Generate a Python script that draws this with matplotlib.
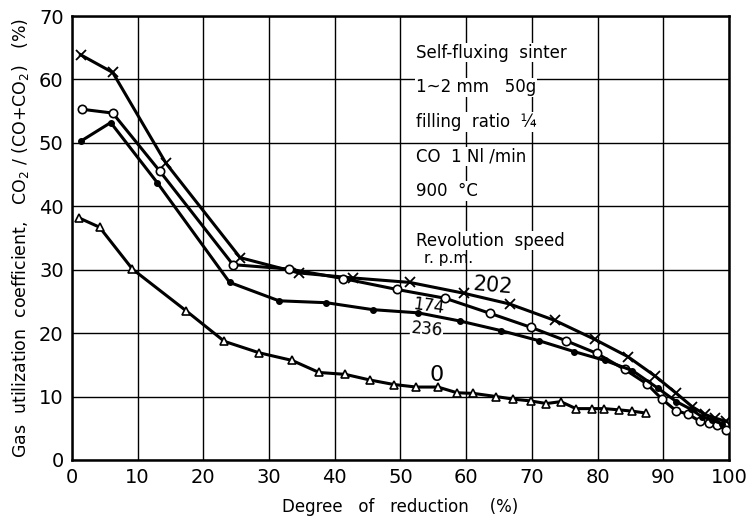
import matplotlib
matplotlib.use("Agg")
import matplotlib.pyplot as plt

# rpm 202 (x markers)
x202 = [1.3, 6.2, 14.3, 25.6, 34.5, 42.8, 51.4, 59.6, 66.6, 73.5, 79.6, 84.6, 88.8, 92.0, 94.4, 96.3, 97.9, 99.6]
y202 = [63.9, 61.1, 46.8, 31.9, 29.5, 28.7, 28.0, 26.3, 24.6, 22.0, 19.0, 16.3, 13.2, 10.5, 8.4, 7.2, 6.6, 6.1]

# rpm 174 (open circles)
x174 = [1.5, 6.2, 13.4, 24.5, 33.1, 41.3, 49.4, 56.8, 63.7, 69.9, 75.2, 79.9, 84.1, 87.5, 89.8, 91.9, 93.8, 95.6, 96.9, 98.1, 99.6]
y174 = [55.3, 54.7, 45.5, 30.8, 30.1, 28.6, 26.9, 25.5, 23.1, 20.9, 18.8, 16.8, 14.3, 12.0, 9.6, 7.8, 7.2, 6.1, 5.8, 5.5, 4.8]

# rpm 236 (filled dots)
x236 = [1.4, 5.9, 13.0, 24.0, 31.5, 38.7, 45.8, 52.7, 59.1, 65.3, 71.1, 76.4, 81.1, 85.3, 89.2, 92.0, 94.2, 95.9, 97.4, 98.9]
y236 = [50.3, 53.2, 43.7, 28.0, 25.1, 24.8, 23.7, 23.2, 21.9, 20.4, 18.8, 17.1, 15.7, 14.1, 11.3, 9.2, 8.0, 6.8, 6.3, 5.7]

# rpm 0 (triangles)
x0 = [1.0, 4.2, 9.2, 17.4, 23.2, 28.5, 33.5, 37.6, 41.6, 45.4, 49.0, 52.4, 55.7, 58.6, 61.1, 64.6, 67.1, 69.9, 72.2, 74.4, 76.7, 79.1, 81.0, 83.3, 85.3, 87.3]
y0 = [38.2, 36.7, 30.1, 23.5, 18.7, 16.9, 15.7, 13.8, 13.5, 12.6, 11.9, 11.5, 11.5, 10.6, 10.5, 10.0, 9.6, 9.3, 8.9, 9.2, 8.1, 8.1, 8.1, 7.9, 7.7, 7.4]

ticks = [0, 10, 20, 30, 40, 50, 60, 70, 80, 90, 100]
yticks = [0, 10, 20, 30, 40, 50, 60, 70]

conditions = ["Self-fluxing  sinter", "1~2 mm   50g", "filling  ratio  \u00bc", "CO  1 Nl /min", "900  \u00b0C"]

fig = plt.figure(figsize=(7.52, 5.22), dpi=100)
ax = fig.add_axes([0.0957, 0.1188, 0.8737, 0.8505])

ax.set_xlim(0, 100)
ax.set_ylim(0, 70)
ax.set_xticks(ticks)
ax.set_yticks(yticks)
ax.tick_params(length=0, labelsize=14, pad=6)
ax.grid(True, color="black", linewidth=1.0)
ax.set_axisbelow(True)
for s in ax.spines.values():
    s.set_linewidth(1.8)

lw = 2.2
ax.plot(x202, y202, color="black", lw=lw, marker="x", ms=7, mew=1.3, zorder=3)
ax.plot(x174, y174, color="black", lw=lw, marker="o", ms=6, mfc="white", mec="black", mew=1.2, zorder=3)
ax.plot(x236, y236, color="black", lw=lw, marker="o", ms=4, mfc="black", mec="black", zorder=3)
ax.plot(x0, y0, color="black", lw=lw, marker="^", ms=6, mfc="white", mec="black", mew=1.2, zorder=3)

box = dict(facecolor="white", edgecolor="none", pad=0.5)
ax.text(64.0, 27.4, "202", fontsize=15, ha="center", va="center", rotation=-5, zorder=4)
ax.text(54.2, 24.2, "174", fontsize=12, ha="center", va="center", rotation=-8, zorder=4)
ax.text(54.0, 20.6, "236", fontsize=12, ha="center", va="center", rotation=-5, bbox=box, zorder=4)
ax.text(55.5, 13.4, "0", fontsize=16, ha="center", va="center", zorder=4)

for i, line in enumerate(conditions):
    ax.text(52.3, 64.2 - i * 5.45, line, fontsize=12, ha="left", va="center",
            bbox=box, zorder=4)
ax.text(52.3, 34.6, "Revolution  speed", fontsize=12, ha="left", va="center", bbox=box, zorder=4)
ax.text(53.6, 31.8, "r. p.m.", fontsize=11, ha="left", va="center", zorder=4)

ax.set_xlabel("Degree   of   reduction    (%)", fontsize=12, labelpad=8)
ax.set_ylabel("Gas  utilization  coefficient,   CO$_2$ / (CO+CO$_2$)   (%)", fontsize=12.5, labelpad=6)

fig.savefig("out.png", dpi=100)
